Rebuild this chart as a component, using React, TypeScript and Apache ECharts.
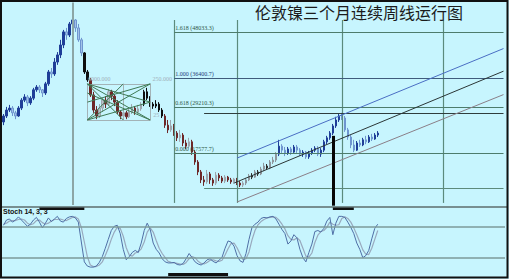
import React, { useEffect, useRef } from 'react';
import * as echarts from 'echarts';

const TITLE = '伦敦镍三个月连续周线运行图';
const STOCH_TITLE = 'Stoch 14, 3, 3';
const WEEK_SLOTS = 168;

// Weekly bars, each [open, close, low, high] in USD/t
const rally2007 = [
  [25400, 26900, 24600, 27400], [26900, 28400, 26400, 29200], [28400, 28900, 27900, 29700],
  [28900, 27700, 26900, 29400], [27700, 26900, 26100, 28200], [26900, 28900, 26700, 29400],
  [28900, 30900, 28400, 31400], [30900, 31700, 30400, 32400], [31700, 30200, 29400, 32200],
  [30200, 31400, 29700, 31900], [31400, 33500, 30900, 34000], [33500, 34200, 33000, 34700],
  [34200, 33500, 32700, 34700], [33500, 32700, 31700, 33700], [32700, 35000, 32200, 35500],
  [35000, 38000, 34500, 38500], [38000, 37500, 36500, 39000], [37500, 40500, 37000, 41500],
  [40500, 42300, 39800, 43000], [42300, 44800, 41500, 46100], [44800, 48100, 44000, 48600],
  [48100, 47300, 46100, 49100], [47300, 50100, 46800, 50600], [50100, 51100, 49300, 51600],
  [51100, 49100, 48100, 51300], [49100, 46100, 45600, 50100], [46100, 42800, 42000, 46600],
];
const top2007 = [
  [42800, 38000, 37500, 43000], [38000, 36000, 35500, 38500],
];
const slide2007 = [
  [36000, 32200, 31700, 36500], [32200, 28400, 27700, 33000], [28400, 26900, 26100, 29400],
  [26900, 28900, 26400, 29900], [28900, 30900, 27900, 31400], [30900, 29900, 28900, 31900],
  [29900, 33000, 29400, 33700], [33000, 31900, 30900, 33500], [31900, 30400, 29400, 32400],
  [30400, 27900, 27400, 30900], [27900, 26900, 26100, 28400], [26900, 27700, 26400, 28900],
  [27700, 26700, 26100, 28200], [26700, 27900, 26400, 28900], [27900, 28900, 27400, 29900],
  [28900, 27900, 27200, 29400], [27900, 28700, 27400, 29700], [28700, 29900, 28200, 30400],
];
const bounce2008 = [
  [29900, 33000, 29400, 33500], [33000, 31400, 30900, 34000], [31400, 29900, 29200, 31900],
  [29900, 29400, 28700, 30400], [29400, 29900, 28900, 30900], [29900, 28400, 27900, 30400],
  [28400, 26900, 26400, 28900],
];
const crash2008 = [
  [26900, 24600, 23900, 27400], [24600, 23400, 22600, 25900], [23400, 24400, 22900, 25900],
  [24400, 22600, 21900, 24900], [22600, 21400, 20600, 23100], [21400, 22100, 20400, 23400],
  [22100, 20100, 19300, 22600], [20100, 19300, 18600, 20900], [19300, 20400, 18800, 21400],
  [20400, 17800, 17100, 20900], [17800, 15300, 14600, 18300], [15300, 12800, 12000, 15800],
  [12800, 10800, 10000, 13300], [10800, 10300, 9300, 11800], [10300, 12300, 9800, 13300],
  [12300, 10800, 9800, 12800], [10800, 10000, 9300, 11300], [10000, 12000, 9500, 12800],
  [12000, 11300, 10500, 12500], [11300, 10500, 10000, 11800], [10500, 11500, 10000, 12000],
  [11500, 10800, 10300, 11800], [10800, 10300, 9800, 11300], [10300, 11000, 9800, 11300],
  [11000, 10000, 9500, 11300], [10000, 9500, 9000, 10500], [9500, 10000, 9000, 10500],
];
const base2009 = [
  [10000, 10800, 9500, 11300], [10800, 11800, 10500, 12300], [11800, 11500, 11000, 12500],
  [11500, 12800, 11300, 13300], [12800, 12300, 11800, 13300], [12300, 13500, 12000, 14100],
  [13500, 14300, 13000, 15100], [14300, 13800, 13300, 14800], [13800, 15300, 13500, 15800],
  [15300, 15800, 14800, 16600], [15800, 17300, 15300, 17800],
];
const rally2010 = [
  [17300, 19300, 16800, 20900], [19300, 18300, 17600, 19800], [18300, 17600, 16800, 19100],
  [17600, 18600, 17100, 19100], [18600, 17800, 17100, 19100], [17800, 19100, 17600, 19600],
  [19100, 18300, 17600, 19600], [18300, 17300, 16800, 18800], [17300, 17800, 16600, 18300],
  [17800, 16600, 16100, 18100], [16600, 17600, 16100, 18100], [17600, 18300, 17100, 18800],
  [18300, 18800, 17800, 19300], [18800, 17300, 16800, 19300], [17300, 18300, 16600, 18800],
  [18300, 20400, 17800, 20900], [20400, 21400, 19800, 21900], [21400, 22600, 20900, 23100],
  [22600, 24400, 22100, 24900], [24400, 25900, 23900, 26700], [25900, 26900, 25400, 27400],
  [26900, 26400, 25900, 27700], [26400, 23400, 22900, 26900], [23400, 21600, 20900, 23900],
  [21600, 19600, 18800, 22100], [19600, 18300, 17800, 20900], [18300, 20100, 18100, 20600],
  [20100, 19600, 19100, 20900], [19600, 20900, 19300, 21400], [20900, 20400, 19800, 21900],
  [20400, 21600, 20100, 22100], [21600, 21100, 20600, 22400], [21100, 22100, 20900, 22600],
  [22100, 22600, 21600, 23100],
];

// Stochastic (14, 3, 3), one value per week
const stochK = [
  82, 92, 94, 88, 92, 98, 92, 86, 80, 84, 92, 97, 88, 77, 86, 96, 89, 94, 99, 90,
  88, 95, 98, 99, 96, 88, 50, 12, 4, 2, 2, 4, 11, 22, 38, 55, 72, 80, 82, 66,
  36, 16, 22, 30, 34, 30, 48, 72, 86, 74, 48, 36, 29, 18, 12, 10, 10, 11, 7, 6,
  9, 18, 28, 20, 12, 8, 6, 10, 16, 18, 13, 10, 15, 21, 38, 52, 50, 42, 24, 14,
  11, 28, 55, 78, 84, 88, 95, 97, 96, 98, 99, 94, 84, 74, 66, 46, 52, 64, 58, 36,
  20, 12, 30, 46, 70, 72, 69, 76, 90, 97, 64, 86, 99, 99, 97, 88, 78, 66, 48, 36,
  20, 24, 34, 56, 76, 84,
];
const stochD = [
  84, 86, 90, 91, 91, 93, 94, 92, 86, 83, 85, 91, 92, 87, 84, 86, 90, 93, 93, 94,
  92, 91, 94, 97, 98, 94, 78, 50, 22, 6, 3, 3, 6, 12, 24, 38, 55, 69, 78, 76,
  61, 39, 25, 23, 29, 31, 37, 50, 69, 77, 69, 53, 38, 28, 20, 13, 11, 10, 9, 8,
  7, 11, 18, 22, 20, 13, 9, 8, 11, 15, 16, 14, 13, 15, 25, 37, 47, 48, 39, 27,
  16, 18, 31, 54, 72, 83, 89, 93, 96, 97, 98, 97, 92, 84, 75, 62, 55, 54, 58, 53,
  38, 23, 21, 29, 49, 63, 70, 72, 78, 88, 84, 82, 83, 95, 98, 95, 88, 77, 64, 50,
  35, 27, 26, 38, 55, 72,
];

// Fibonacci projection levels
const fibRatios = ['1.618', '1.000', '0.618', '0.000'];
const fibPrices = [48033.3, 36400.7, 29210.3, 17577.7];

// Time-cycle weeks, the 2007 peak week, range and channel anchors
const cycleWeeks = [57, 78, 113, 147];
const peakWeek = 23;
const rangeHigh = 27700;
const rangeLow = 8800;
const channelFrom = [[78, 16300], [77, 10000], [78, 5230]];
const channelTo = [[167, 43900], [167, 38200], [167, 32300]];
const turnWeek = 110;
const turnLow = 21900;

// Gann box: weeks and price levels
const gannWeeks = [28, 40, 49];
const gannPrices = [35000, 32700, 30400, 25900];
const gannTags = ['6000.000', '250.000', '25'];

const PAL = {
  blue: { up: '#1f3e98', upB: '#1f3e98', dn: '#a2c2e8', dnB: '#6f95cf' },
  black: { up: '#0e0e0e', upB: '#0e0e0e', dn: '#0e0e0e', dnB: '#0e0e0e' },
  brown: { up: '#bcc3ca', upB: '#9da6ae', dn: '#6d2727', dnB: '#6d2727' },
  dark: { up: '#c0c5ca', upB: '#8d959c', dn: '#2d2d2d', dnB: '#2d2d2d' },
};

const segments = [
  { bars: rally2007, pal: PAL.blue },
  { bars: top2007, pal: PAL.black },
  { bars: slide2007, pal: PAL.brown },
  { bars: bounce2008, pal: PAL.black },
  { bars: crash2008, pal: PAL.brown },
  { bars: base2009, pal: PAL.dark },
  { bars: rally2010, pal: PAL.blue },
];

const App: React.FC = () => {
  const ref = useRef<HTMLDivElement>(null);

  useEffect(() => {
    if (!ref.current) return;
    const chart = echarts.init(ref.current, undefined, { renderer: 'svg' });

    const weeks = Array.from({ length: WEEK_SLOTS }, (_, i) => `W${i + 1}`);
    // each bar takes its segment's rising or falling colour
    const candles = segments.flatMap((s) =>
      s.bars.map((b) => {
        const rising = b[1] >= b[0];
        const fill = rising ? s.pal.up : s.pal.dn;
        const border = rising ? s.pal.upB : s.pal.dnB;
        return {
          value: b,
          itemStyle: { color: fill, color0: fill, borderColor: border, borderColor0: border },
        };
      }),
    );
    const last = WEEK_SLOTS - 1;

    const seg = (a: number[], b: number[], color: string, width = 1, label?: any) => [
      { coord: a, lineStyle: { color, width, type: 'solid' }, label: label || { show: false } },
      { coord: b },
    ];

    const fibLines = fibPrices.map((p, k) =>
      seg([cycleWeeks[0], p], [last, p], k === 1 ? '#3f5c7c' : '#4d7c6c', 1.2, {
        show: true,
        position: 'insideStartTop',
        distance: 1,
        formatter: `${fibRatios[k]} (${p.toFixed(1)})`,
        fontSize: 6,
        fontFamily: 'Liberation Serif',
        color: k === 1 ? '#1f3a78' : '#2c5748',
      }),
    );
    const cycleLines = cycleWeeks.map((w) => seg([w, 51100], [w, 5000], '#5b8a7d', 1.2));
    const peakLine = seg([peakWeek, 55500], [peakWeek, 4500], '#8ca6a6', 2);
    const rangeLines = [
      seg([67, rangeHigh], [last, rangeHigh], '#2f3d3d', 1.2),
      seg([67, rangeLow], [last, rangeLow], '#5d8a7c', 1.2),
    ];
    const channelColors = ['#4a6ec4', '#2b3636', '#8a7f88'];
    const channelLines = channelFrom.map((a, k) => seg(a, channelTo[k], channelColors[k], 1));
    const turnLine = seg([turnWeek, turnLow], [turnWeek, 4300], '#050505', 3);

    const [gL, gM, gR] = gannWeeks;
    const [gTop, g2, g3, gBot] = gannPrices;
    const boxColor = '#a3b3b7';
    const fanColor = '#3f7a55';
    const gannLines = [
      seg([gL, gTop], [gR, gTop], boxColor),
      seg([gL, gBot], [gR, gBot], boxColor),
      seg([gL, gTop], [gL, gBot], boxColor),
      seg([gR, gTop], [gR, gBot], boxColor),
      seg([gM, gTop], [gM, gBot], boxColor),
      seg([gL, gBot], [gR, gTop], fanColor),
      seg([gL, gTop], [gR, gBot], fanColor),
      seg([gL, gBot], [gR, g3], fanColor),
      seg([gL, gTop], [gR, g3], fanColor),
      seg([gL, gBot], [gM, gTop], fanColor),
      seg([gL, gTop], [gM, gBot], fanColor),
      seg([gR, gTop], [gL, g3], fanColor),
      seg([gR, gBot], [gL, g2], fanColor),
    ];

    const option: any = {
      animation: false,
      backgroundColor: '#c7f5fe',
      title: [
        {
          text: TITLE,
          left: 255,
          top: 4,
          padding: 0,
          textStyle: { fontSize: 16, fontWeight: 'normal', color: '#1b1b1b', fontFamily: 'Noto Sans CJK SC' },
        },
        {
          text: STOCH_TITLE,
          left: 3,
          top: 208,
          padding: 0,
          textStyle: { fontSize: 7, fontWeight: 'bold', color: '#111', fontFamily: 'Liberation Sans' },
        },
      ],
      grid: [
        { left: 2, width: 503, top: 2, height: 204 },
        { left: 2, width: 503, top: 208, height: 68 },
      ],
      xAxis: [
        { type: 'category', data: weeks, gridIndex: 0, show: false, boundaryGap: true },
        { type: 'category', data: weeks, gridIndex: 1, show: false, boundaryGap: true },
      ],
      yAxis: [
        { type: 'value', gridIndex: 0, min: 4222, max: 55630, show: false, splitLine: { show: false } },
        { type: 'value', gridIndex: 1, min: -15, max: 115, show: false, splitLine: { show: false } },
      ],
      graphic: [
        { type: 'line', shape: { x1: 2, y1: 207, x2: 507, y2: 207 }, style: { stroke: '#5c6c6c', lineWidth: 1.5 }, z: 10 },
        {
          type: 'rect',
          shape: { x: 1, y: 1, width: 506.5, height: 276.5 },
          style: { fill: 'none', stroke: '#111', lineWidth: 2 },
          z: 10,
        },
      ],
      series: [
        {
          type: 'candlestick',
          xAxisIndex: 0,
          yAxisIndex: 0,
          barWidth: 2,
          itemStyle: { borderWidth: 1 },
          data: candles,
          markLine: {
            silent: true,
            symbol: 'none',
            animation: false,
            label: { show: false },
            data: [
              peakLine,
              ...cycleLines,
              ...fibLines,
              ...rangeLines,
              ...channelLines,
              turnLine,
              ...gannLines,
            ],
          },
          markPoint: {
            silent: true,
            symbol: 'circle',
            symbolSize: 1,
            itemStyle: { color: 'rgba(0,0,0,0)' },
            label: {
              show: true,
              position: 'top',
              distance: 1,
              formatter: '{b}',
              fontSize: 6,
              fontFamily: 'Liberation Serif',
              color: '#9fb0ba',
            },
            data: [
              { name: gannTags[0], coord: [32, gTop] },
              { name: gannTags[1], coord: [53, gTop] },
              { name: gannTags[2], coord: [51, gBot] },
            ],
          },
        },
        {
          type: 'line',
          xAxisIndex: 1,
          yAxisIndex: 1,
          data: stochD,
          showSymbol: false,
          symbol: 'none',
          lineStyle: { color: '#98a9be', width: 1.2 },
          z: 2,
        },
        {
          type: 'line',
          xAxisIndex: 1,
          yAxisIndex: 1,
          data: stochK,
          showSymbol: false,
          symbol: 'none',
          lineStyle: { color: '#4f6fa6', width: 1 },
          z: 3,
          markLine: {
            silent: true,
            symbol: 'none',
            animation: false,
            label: { show: false },
            data: [
              { yAxis: 80, lineStyle: { color: '#7c9a9a', width: 1.5, type: 'solid' } },
              { yAxis: 20, lineStyle: { color: '#7c9a9a', width: 1.5, type: 'solid' } },
              seg([12, 115], [27, 115], '#111', 3),
              seg([110, 115], [117, 115], '#111', 3),
              seg([55, -11], [75, -11], '#111', 3),
            ],
          },
        },
      ],
    };

    chart.setOption(option);
    return () => chart.dispose();
  }, []);

  return (
    <div
      ref={ref}
      style={{ position: 'absolute', left: 0, top: 0, width: 509, height: 279 }}
    />
  );
};

export default App;
